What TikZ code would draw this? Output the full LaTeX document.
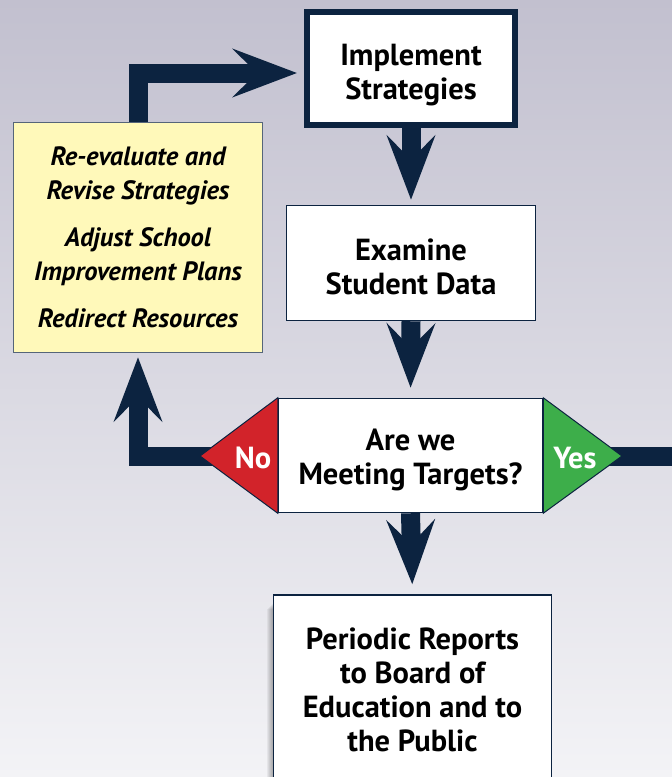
\documentclass[tikz,border=0pt]{standalone}
\usepackage{fontspec}
\setmainfont{PT Sans}
\usetikzlibrary{arrows.meta}
\definecolor{navy}{HTML}{0C2340}
\definecolor{noRed}{HTML}{D2232A}
\definecolor{yesGreen}{HTML}{3DAE4A}
\definecolor{noteYellow}{HTML}{FFF9BA}
\definecolor{bgTop}{HTML}{C2C0CF}
\definecolor{bgBottom}{HTML}{F3F3F6}
\newcommand{\boxfont}{\bfseries\fontsize{30.5}{34}\selectfont}
\newcommand{\notefont}{\bfseries\itshape\fontsize{26.5}{33.5}\selectfont}
\tikzset{
  box/.style={draw=navy, fill=white, line width=1.5pt, align=center,
              inner sep=0pt, font=\boxfont},
  boxtext/.style={align=center, inner sep=0pt, font=\boxfont},
  note/.style={box, fill=noteYellow, draw=navy!70, font=\notefont},
  flow/.style={draw=navy, line width=19pt,
               -{Stealth[length=64pt,width=48pt,inset=24pt]}},
  branch/.style={draw=navy, line width=1pt},
}

\begin{document}
\begin{tikzpicture}[x=1pt, y=-1pt]
   \useasboundingbox (0,0) rectangle (672,777);
   \clip (0,0) rectangle (672,777);
   \shade[top color=bgTop, bottom color=bgBottom] (0,0) rectangle (672,777);

   \node[box, line width=6pt, minimum width=208, minimum height=113] (impl) at (411,68.5) {};
   \node[boxtext] (implText) at (411,75) {Implement\\Strategies};
   \node[box, minimum width=249, minimum height=115] (exam) at (411,263) {};
   \node[boxtext] (examText) at (411,267) {Examine\\Student Data};
   \node[note, minimum width=249, minimum height=230] (revise) at (138,237.5)
        {Re-evaluate and\\Revise Strategies\\[14pt]Adjust School\\Improvement Plans\\[14pt]Redirect Resources};
   \node[box, minimum width=264, minimum height=114] (check) at (410.5,455.5) {};
   \node[boxtext] (checkText) at (410.5,460) {Are we\\Meeting Targets?};

   \foreach \d in {1,...,7}
      \fill[black, opacity=.05] (273.5-\d,602+\d) rectangle (551.5,785);
   \node[box, minimum width=278, minimum height=190] (report) at (412.5,690)
        {Periodic Reports\\to Board of\\Education and to\\the Public};

   \coordinate (noTip)  at (200,456);
   \coordinate (yesTip) at (622,456);
   \coordinate (yesEnd) at (672,456);

   \draw[flow] (revise.north) |- ([yshift=-4.5pt]impl.west) [shorten >=7pt];
   \draw[flow, shorten >=5pt]  (impl.south)  -- (exam.north);
   \draw[flow, shorten >=10pt] (exam.south)  -- (check.north);
   \draw[flow, shorten >=10pt] (check.south) -- (report.north);
   \draw[flow, shorten >=4pt]  ([xshift=-20pt]check.west |- noTip) -| (revise.south);
   \draw[draw=navy, line width=19pt] ([xshift=20pt]check.east |- yesTip) -- (yesEnd);

   \filldraw[branch, fill=noRed]    (check.north west) -- (noTip)  -- (check.south west) -- cycle;
   \filldraw[branch, fill=yesGreen] (check.north east) -- (yesTip) -- (check.south east) -- cycle;
   \node[text=white, font=\boxfont] (no)  at (253,458) {No};
   \node[text=white, font=\boxfont] (yes) at (575,458) {Yes};
\end{tikzpicture}
\end{document}
